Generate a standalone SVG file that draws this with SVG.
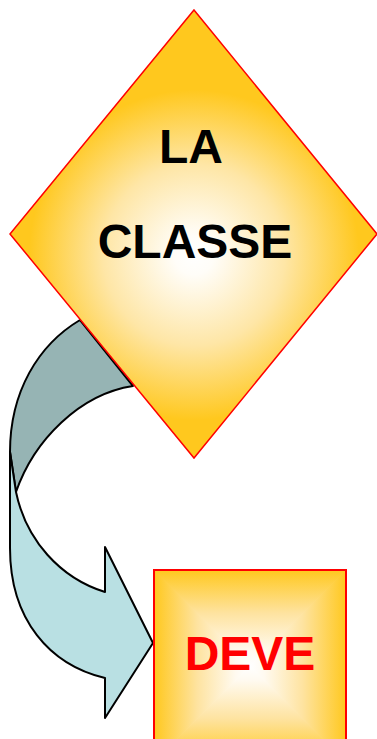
<svg xmlns="http://www.w3.org/2000/svg" width="377" height="739" viewBox="0 0 377 739">
<style>
.arrow{stroke:#000;stroke-width:2;stroke-linejoin:round}
.back{fill:#96b4b4}
.front{fill:#b9e0e3}
.lbl{font-family:"Liberation Sans",Arial,sans-serif;font-weight:bold;font-size:48px;text-anchor:middle}
.tri{stroke-width:0.8}
</style>
<defs>
<radialGradient id="gd" gradientUnits="userSpaceOnUse" cx="194" cy="255" r="165">
<stop offset="0" stop-color="#ffffff"/>
<stop offset="0.12" stop-color="#fffdf8"/>
<stop offset="0.55" stop-color="#fee6a6"/>
<stop offset="1" stop-color="#ffc81e"/>
</radialGradient>
<linearGradient id="gt" gradientUnits="userSpaceOnUse" x1="0" y1="570" x2="0" y2="666">
<stop offset="0" stop-color="#ffc81e"/><stop offset="0.45" stop-color="#fee3a0"/><stop offset="0.85" stop-color="#fffaf0"/><stop offset="1" stop-color="#ffffff"/>
</linearGradient>
<linearGradient id="gb" gradientUnits="userSpaceOnUse" x1="0" y1="762" x2="0" y2="666">
<stop offset="0" stop-color="#ffc81e"/><stop offset="0.45" stop-color="#fee3a0"/><stop offset="0.85" stop-color="#fffaf0"/><stop offset="1" stop-color="#ffffff"/>
</linearGradient>
<linearGradient id="gl" gradientUnits="userSpaceOnUse" x1="154" y1="0" x2="250" y2="0">
<stop offset="0" stop-color="#ffc81e"/><stop offset="0.45" stop-color="#fee3a0"/><stop offset="0.85" stop-color="#fffaf0"/><stop offset="1" stop-color="#ffffff"/>
</linearGradient>
<linearGradient id="gr" gradientUnits="userSpaceOnUse" x1="346" y1="0" x2="250" y2="0">
<stop offset="0" stop-color="#ffc81e"/><stop offset="0.45" stop-color="#fee3a0"/><stop offset="0.85" stop-color="#fffaf0"/><stop offset="1" stop-color="#ffffff"/>
</linearGradient>
</defs>
<g id="connectors">
<path class="arrow back" d="M80,320 C38,345 10,392 10,452 L16,492 C34,440 80,394 133,386 Z"/>
<path class="arrow front" d="M10,452 L16,492 C26,540 60,578 105,592 L105,547 L153,643 L105,718 L105,678 C50,665 10,620 10,548 Z"/>
</g>
<g id="node-classe">
<polygon points="194,10 377,234 194,458 10,234" fill="url(#gd)" stroke="#ff0000" stroke-width="1.5"/>
<text class="lbl" x="191" y="163" fill="#000">LA</text>
<text class="lbl" x="195" y="258" fill="#000">CLASSE</text>
</g>
<g id="node-deve">
<polygon class="tri" points="154,570 346,570 250,666" fill="url(#gt)" stroke="url(#gt)"/>
<polygon class="tri" points="154,762 346,762 250,666" fill="url(#gb)" stroke="url(#gb)"/>
<polygon class="tri" points="154,570 154,762 250,666" fill="url(#gl)" stroke="url(#gl)"/>
<polygon class="tri" points="346,570 346,762 250,666" fill="url(#gr)" stroke="url(#gr)"/>
<rect x="154" y="570" width="192" height="192" fill="none" stroke="#ff0000" stroke-width="2"/>
<text class="lbl" x="250" y="670" fill="#ff0000">DEVE</text>
</g>
</svg>
